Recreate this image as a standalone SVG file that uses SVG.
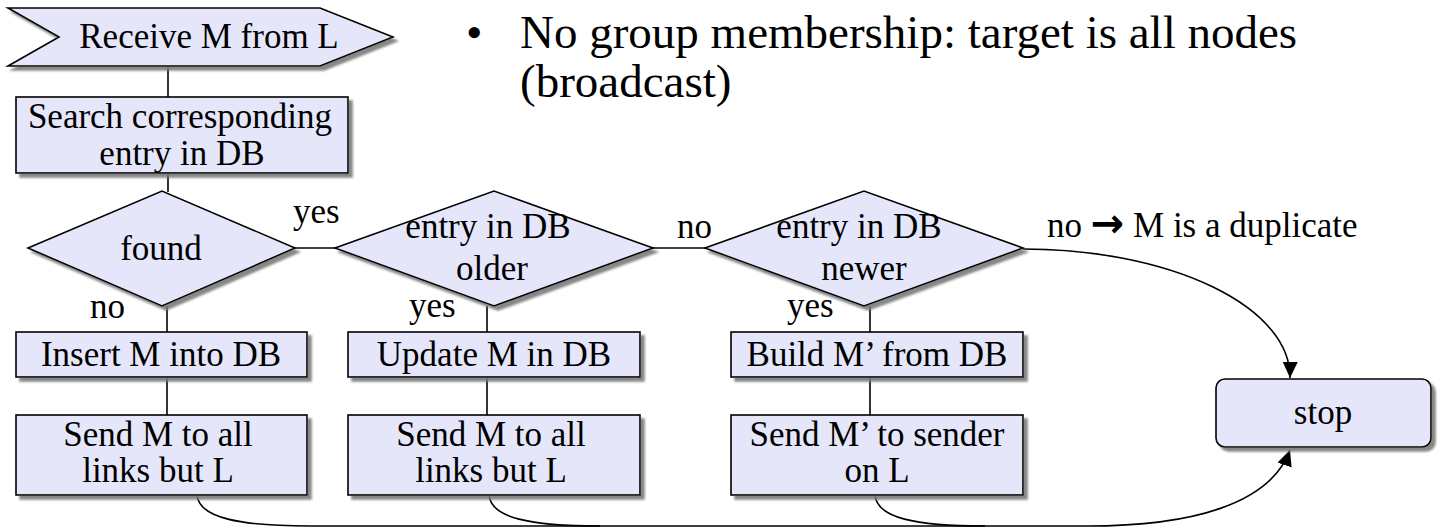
<svg xmlns="http://www.w3.org/2000/svg" width="1442" height="529" viewBox="0 0 1442 529">
<style>
  .shape { fill: #E6E6FA; stroke: #000; stroke-width: 1.6; filter: url(#shadow); }
  .t { font-family: "Liberation Serif", "Times New Roman", serif; font-size: 35px; fill: #000; }
  .c { text-anchor: middle; }
  .big { font-family: "Liberation Serif", "Times New Roman", serif; font-size: 47px; fill: #000; }
  .arr { font-family: "DejaVu Sans", sans-serif; font-size: 40px; font-weight: bold; }
  .conn { fill: none; stroke: #000; stroke-width: 1.6; }
</style>
<defs>
  <filter id="shadow" x="-10%" y="-10%" width="130%" height="140%">
    <feDropShadow dx="4" dy="4" stdDeviation="0.8" flood-color="#7a7a7a" flood-opacity="0.9"/>
  </filter>
  <marker id="arrow" markerUnits="userSpaceOnUse" markerWidth="18" markerHeight="16" refX="16" refY="7.5" orient="auto">
    <path d="M0,0 L16,7.5 L0,15 Z" fill="#000"/>
  </marker>
</defs>
<rect width="1442" height="529" fill="#fff"/>

<g id="connectors">
  <path class="conn" d="M168,66 V97"/>
  <path class="conn" d="M168,173 V192"/>
  <path class="conn" d="M295,248 H335"/>
  <path class="conn" d="M653,248 H705"/>
  <path class="conn" d="M167,306 V332"/>
  <path class="conn" d="M167,377 V415"/>
  <path class="conn" d="M487,306 V332"/>
  <path class="conn" d="M487,377 V415"/>
  <path class="conn" d="M870,306 V332"/>
  <path class="conn" d="M870,377 V415"/>
  <path class="conn" d="M1023,249 A267,128 0 0 1 1290,378" marker-end="url(#arrow)"/>
  <path class="conn" d="M197,495 C199,518 240,526 310,526 L1087,526 C1190,526 1270,505 1290,450" marker-end="url(#arrow)"/>
  <path class="conn" d="M489,495 C491,518 530,526 600,526"/>
  <path class="conn" d="M875,495 C877,518 915,526 985,526"/>
</g>

<g id="receive">
  <polygon class="shape" points="8,8 320,8 393,37 320,66 8,66 59,37"/>
  <text class="t c" x="209" y="48">Receive M from L</text>
</g>

<g id="bullet">
  <text class="big" x="466" y="48">•</text>
  <text class="big" x="520" y="48">No group membership: target is all nodes</text>
  <text class="big" x="520" y="97">(broadcast)</text>
</g>

<g id="search">
  <rect class="shape" x="16" y="97" width="332" height="76"/>
  <text class="t c" x="180" y="128">Search corresponding</text>
  <text class="t c" x="182" y="165">entry in DB</text>
</g>

<g id="found">
  <polygon class="shape" points="28,248 162,191 295,248 162,306"/>
  <text class="t c" x="161" y="260">found</text>
</g>

<g id="older">
  <polygon class="shape" points="335,248 494,191 653,248 494,306"/>
  <text class="t c" x="488" y="238">entry in DB</text>
  <text class="t c" x="492" y="280">older</text>
</g>

<g id="newer">
  <polygon class="shape" points="705,248 864,191 1023,248 864,306"/>
  <text class="t c" x="859" y="238">entry in DB</text>
  <text class="t c" x="864" y="280">newer</text>
</g>

<g id="labels">
  <text class="t" x="293" y="223">yes</text>
  <text class="t" x="90" y="318">no</text>
  <text class="t" x="409" y="317">yes</text>
  <text class="t" x="677" y="238">no</text>
  <text class="t" x="787" y="317">yes</text>
  <text class="t" x="1047" y="237">no <tspan class="arr">→</tspan> M is a duplicate</text>
</g>

<g id="insert">
  <rect class="shape" x="16" y="332" width="291" height="45"/>
  <text class="t c" x="161" y="366">Insert M into DB</text>
</g>

<g id="update">
  <rect class="shape" x="348" y="332" width="292" height="45"/>
  <text class="t c" x="494" y="366">Update M in DB</text>
</g>

<g id="build">
  <rect class="shape" x="731" y="332" width="292" height="45"/>
  <text class="t c" x="877" y="366">Build M’ from DB</text>
</g>

<g id="send1">
  <rect class="shape" x="16" y="415" width="291" height="80"/>
  <text class="t c" x="158" y="446">Send M to all</text>
  <text class="t c" x="158" y="482">links but L</text>
</g>

<g id="send2">
  <rect class="shape" x="348" y="415" width="292" height="80"/>
  <text class="t c" x="491" y="446">Send M to all</text>
  <text class="t c" x="491" y="482">links but L</text>
</g>

<g id="send3">
  <rect class="shape" x="731" y="415" width="292" height="80"/>
  <text class="t c" x="877" y="446">Send M’ to sender</text>
  <text class="t c" x="877" y="482">on L</text>
</g>

<g id="stop">
  <rect class="shape" x="1216" y="379" width="215" height="68" rx="9" ry="9"/>
  <text class="t c" x="1323" y="424">stop</text>
</g>
</svg>
